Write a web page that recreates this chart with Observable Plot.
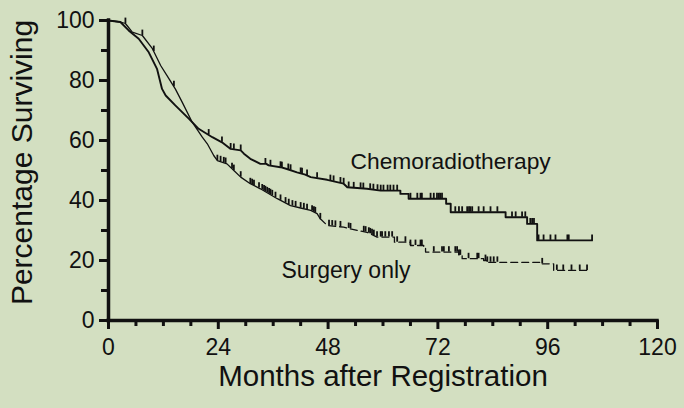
<!DOCTYPE html>
<html><head><meta charset="utf-8">
<script src="https://cdn.jsdelivr.net/npm/d3@7"></script>
<script src="https://cdn.jsdelivr.net/npm/@observablehq/plot@0.6"></script>
<style>
html,body{margin:0;padding:0;background:#d3dfc1;overflow:hidden;}
#chart svg{display:block;}
</style></head><body><div id="chart"></div>
<script>
const seriesNames = ["Chemoradiotherapy", "Surgery only"];

const chemoMonths = [0,2.6,4.4,6.6,8.8,10.6,11.7,12.5,14.6,17.6,19.7,22.7,24.8,26.7,28.9,29.6,31,33.2,34.5,35,37.6,39,41.2,43,44.2,47.8,51.4,52.2,56.5,59.5,63.8,63.8,65.6,65.6,73.8,73.8,74.8,74.8,86.8,86.8,91.5,91.5,93.7,93.7,105.7];
const chemoPct    = [100,99.5,96.7,93.9,89.4,83.9,77.2,75,71.7,67.2,63.9,61.1,59.4,57.2,56.7,55.6,53.9,52.2,52.2,51.7,51.1,50.5,49.4,48.6,47.8,46.9,45.6,44.4,43.9,43.3,43.3,42.2,42.2,40.6,40.6,38.9,38.9,36.1,36.1,34.4,34.4,32.2,32.2,26.7,26.7];

const surgeryMonths = [0,2.6,3.7,5.2,7.4,9.6,11.4,13.2,14.6,16.1,18.3,20.5,21.6,23,23.8,25.9,27.4,28.9,31,33.2,36.9,39.8,42,44.2,45.6,46.3,47.8,51.4,54.4,56.5,58.7,62.5,62.5,66,66,68.9,68.9,69.3,69.3,76.6,76.6,77.3,77.3,82,82,82.7,82.7,94.8,94.8,97.3,97.3,104.6];
const surgeryPct    = [100,99.5,99,96.1,95,90.6,85,80.6,77.2,72.8,66.1,61.1,58.9,55,53.3,52.2,50,47.8,45.6,43.9,40.6,38.3,37.5,36.7,35.6,33.9,31.7,31.1,30,29.4,27.8,27.8,26.1,26.1,25,25,24.4,24.4,22.8,22.8,21.7,21.7,20.6,20.6,20,20,19.4,19.4,18.9,18.9,16.7,16.7];

const chemoCensored = [21.9,24.8,26.7,27.4,28.9,34.3,35.4,37.6,37.9,39.3,39.8,42,42.3,43.4,45.6,48.5,49.2,50.7,51.4,52.5,53.6,55.1,55.7,57.2,57.9,58.8,59.5,60.1,61,61.6,62.3,63.1,66,67.5,68.2,68.5,70.4,71.1,71.8,72.2,72.5,72.9,75.8,76.6,77.3,78.4,78.8,79.1,79.5,80.9,82,83.5,85,88.2,89,90.4,91.1,92.2,92.6,93,94,95.1,96.6,97.7,100.3,100.6,105.7];
const surgeryCensored = [3.7,7.4,9.9,14.3,23.8,24.5,25.2,25.6,27,27.4,28.9,31,31.4,31.8,32.9,33.6,34,34.3,34.7,35.1,35.4,35.8,36.5,37.6,38.7,39.4,40.2,40.9,42,42.7,43.4,44.5,44.9,45.2,46.3,48.2,48.9,49.6,50.7,52.5,52.9,55.8,56.2,56.9,57.2,57.6,58,58.7,59.5,59.8,60.5,61.3,62,63.1,64.9,66,67.1,68.2,68.5,71.1,72.9,73.3,74.4,75.8,76.2,76.6,76.9,78.7,80.6,80.9,82.4,82.8,83.5,84.2,85,94.8,98,99.4,101.2,103,104.6];

const xTicks = [0,24,48,72,96,120];
const xMinorTicks = [6,12,18,30,36,42,54,60,66,78,84,90,102,108,114];
const yTicks = [0,20,40,60,80,100];
const yMinorTicks = [10,30,50,70,90];

const toRows = (ms, ps) => ms.map((t, i) => ({t, v: ps[i]}));
const chemo = toRows(chemoMonths, chemoPct);
const surgery = toRows(surgeryMonths, surgeryPct);

function valueAt(rows, t) {
  let i = -1;
  for (let k = 0; k < rows.length; k++) if (rows[k].t <= t) i = k;
  if (i < 0) return rows[0].v;
  if (i >= rows.length - 1) return rows[rows.length - 1].v;
  const a = rows[i], b = rows[i + 1];
  if (b.t === a.t) return a.v;
  return a.v + (b.v - a.v) * (t - a.t) / (b.t - a.t);
}
const chemoTicks = chemoCensored.map(t => ({t, v: valueAt(chemo, t)}));
const surgeryTicks = surgeryCensored.map(t => ({t, v: valueAt(surgery, t)}));

const font = "'Liberation Sans', Arial, sans-serif";
const ink = "#111";

const chart = Plot.plot({
  width: 684,
  height: 408,
  marginLeft: 108,
  marginRight: 27,
  marginTop: 20,
  marginBottom: 88,
  style: {background: "#d3dfc1", fontFamily: font, color: ink},
  x: {domain: [0, 120]},
  y: {domain: [0, 100]},
  marks: [
    Plot.axisX({ticks: xTicks, tickSize: 9, tickPadding: 9, strokeWidth: 3, fontSize: 23, label: null, stroke: ink, fill: ink}),
    Plot.axisX({ticks: xMinorTicks, tickSize: 6, strokeWidth: 3, tickFormat: () => "", label: null, stroke: ink}),
    Plot.axisY({ticks: yTicks, tickSize: 9, tickPadding: 5, strokeWidth: 3, fontSize: 23, label: null, stroke: ink, fill: ink}),
    Plot.axisY({ticks: yMinorTicks, tickSize: 7, strokeWidth: 3, tickFormat: () => "", label: null, stroke: ink}),
    Plot.ruleY([0], {stroke: ink, strokeWidth: 3.5, strokeLinecap: "square"}),
    Plot.ruleX([0], {stroke: ink, strokeWidth: 3.5, strokeLinecap: "square"}),
    Plot.line(chemo, {x: "t", y: "v", stroke: ink, strokeWidth: 1.9}),
    Plot.line(surgery.filter(d => d.t <= 46.3), {x: "t", y: "v", stroke: ink, strokeWidth: 1.3}),
    Plot.line(surgery.filter(d => d.t >= 46.3), {x: "t", y: "v", stroke: ink, strokeWidth: 1.3, strokeDasharray: "7,4"}),
    Plot.ruleX(chemoTicks, {x: "t", y1: "v", y2: d => d.v + 1.8, stroke: ink, strokeWidth: 1.8}),
    Plot.ruleX(surgeryTicks, {x: "t", y1: "v", y2: d => d.v + 1.8, stroke: ink, strokeWidth: 1.8}),
    Plot.text([seriesNames[0]], {x: 52.9, y: 53, textAnchor: "start", fontSize: 22.8, fill: ink}),
    Plot.text([seriesNames[1]], {x: 37.8, y: 16.7, textAnchor: "start", fontSize: 23, fill: ink}),
    Plot.text(["Percentage Surviving"], {frameAnchor: "left", textAnchor: "middle", rotate: -90, dx: -86, dy: -8, fontSize: 30, fill: ink}),
    Plot.text(["Months after Registration"], {frameAnchor: "bottom", textAnchor: "middle", dy: 65, fontSize: 29.5, fill: ink})
  ]
});
document.getElementById("chart").appendChild(chart);
</script></body></html>
